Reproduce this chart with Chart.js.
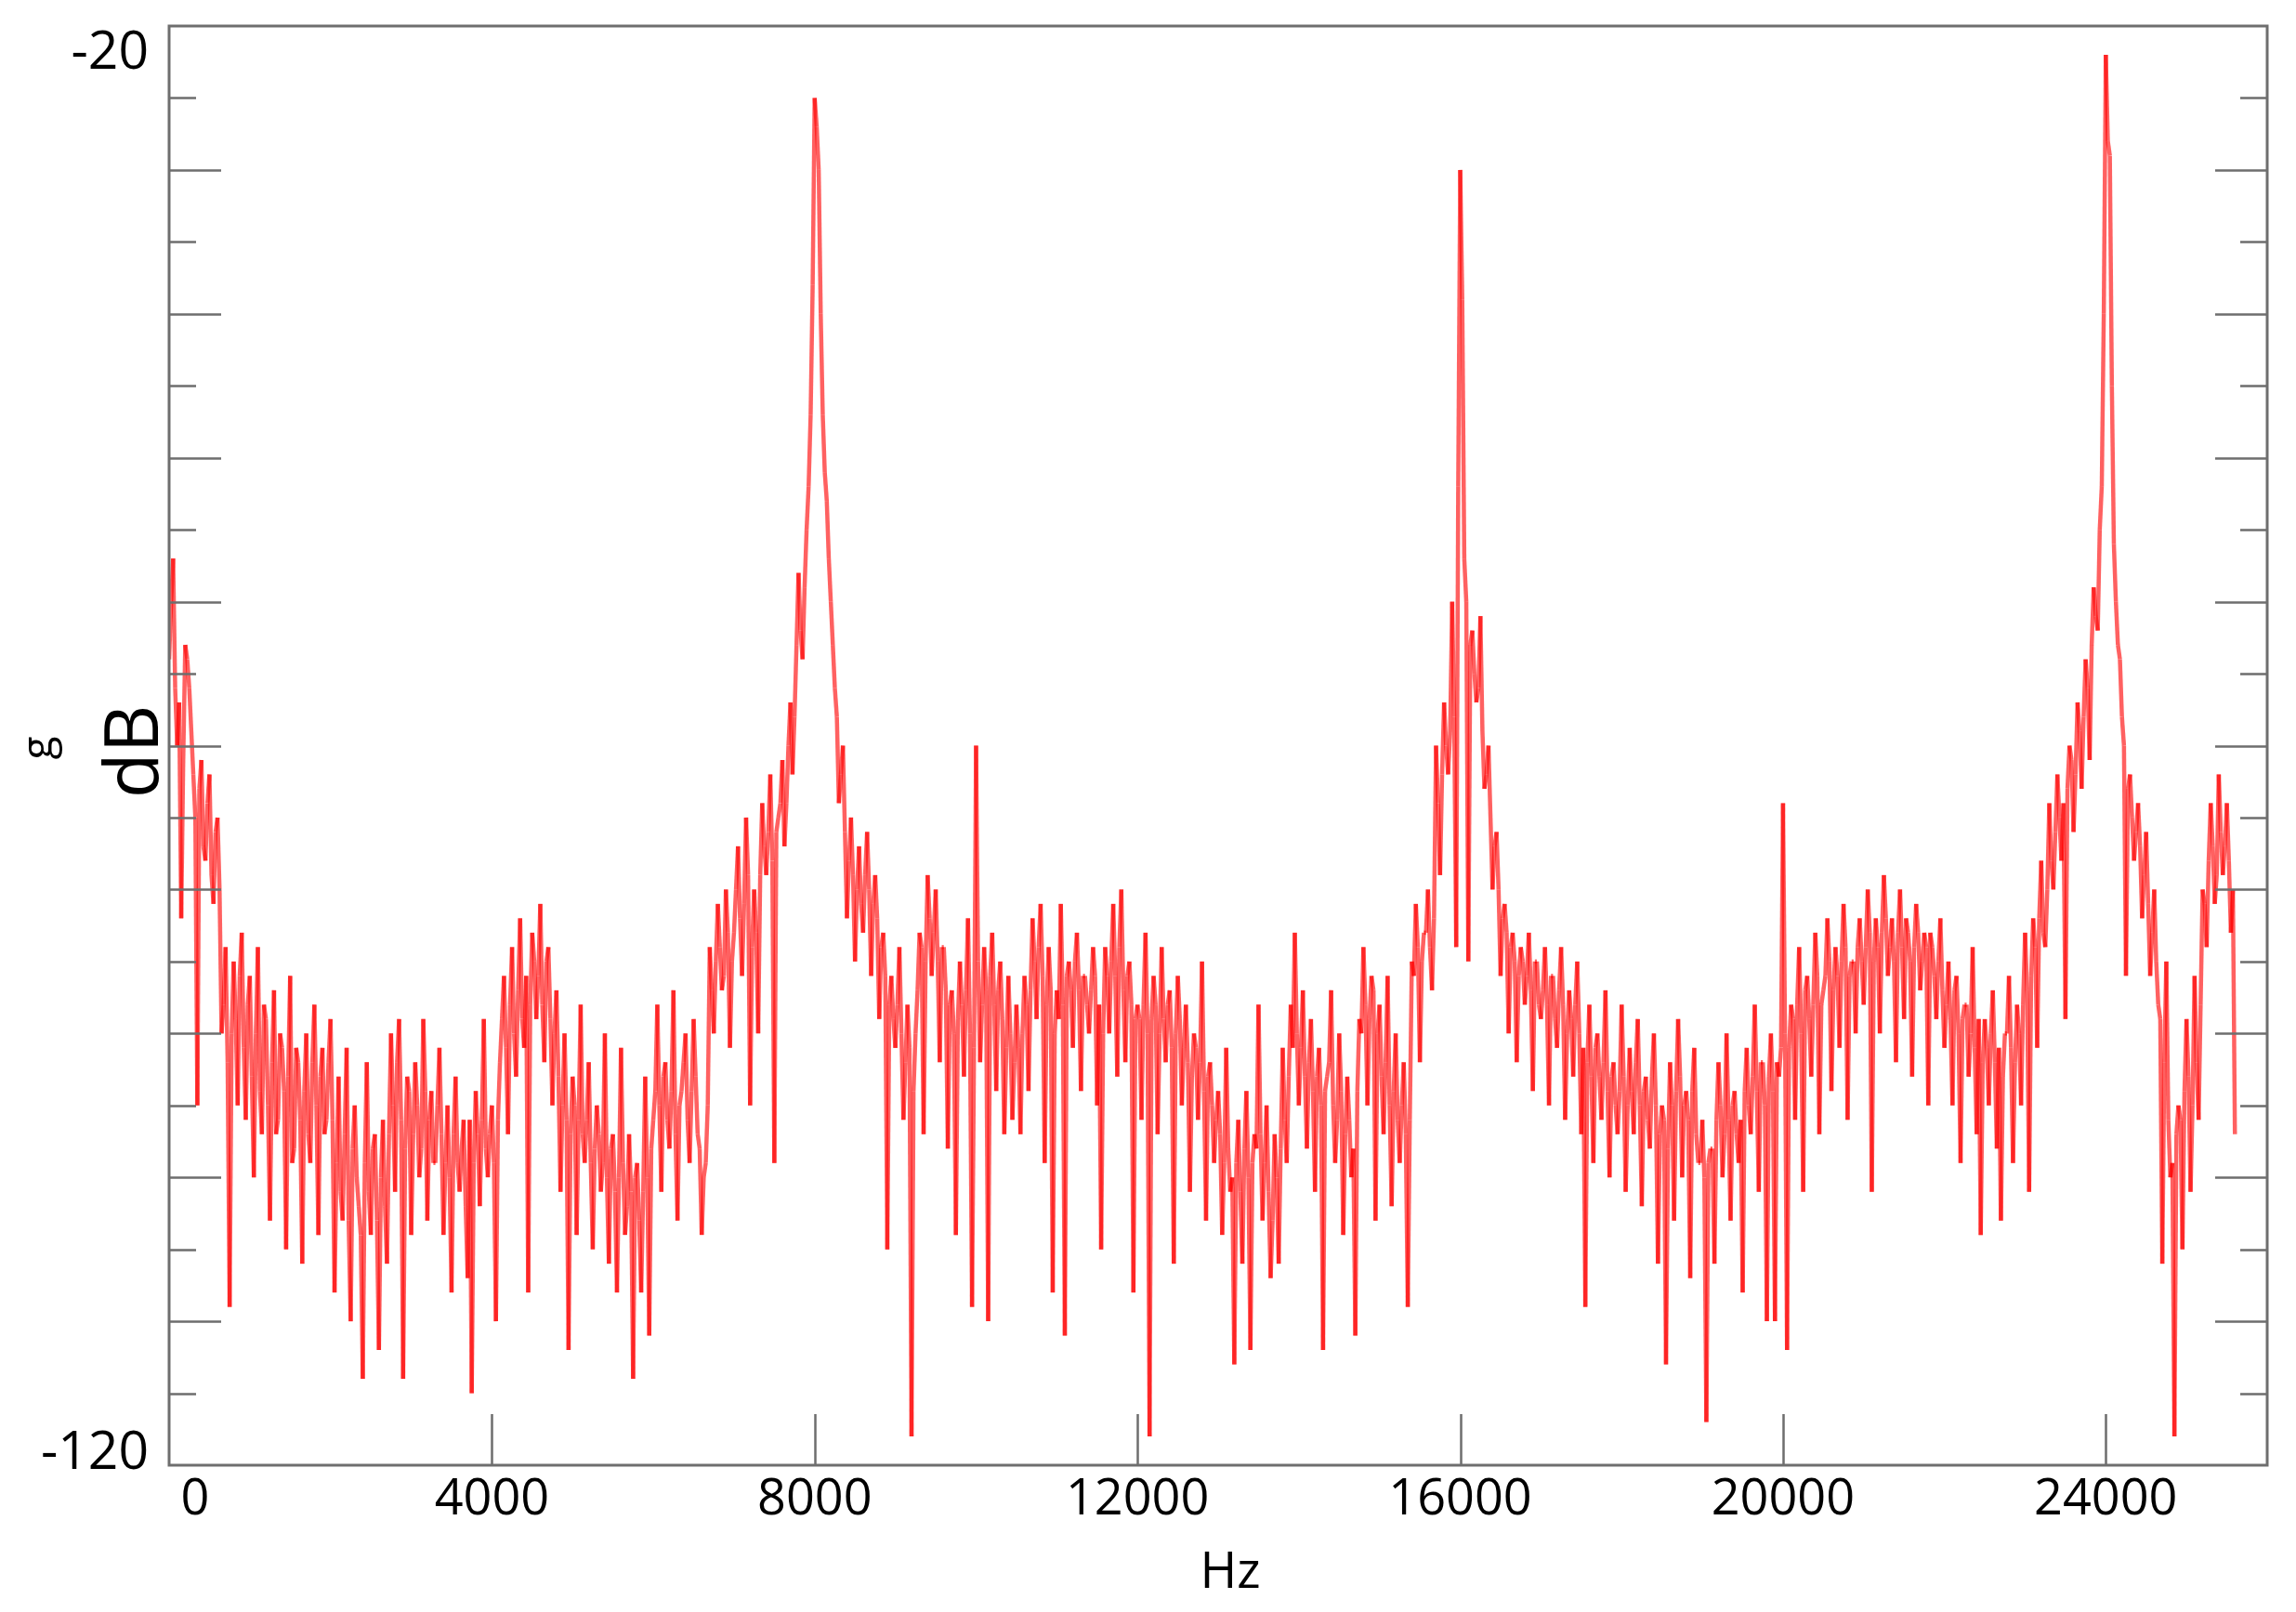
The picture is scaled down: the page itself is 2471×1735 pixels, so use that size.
<!DOCTYPE html>
<html>
<head>
<meta charset="utf-8">
<script src="https://cdn.jsdelivr.net/npm/chart.js@4.4.1/dist/chart.umd.min.js"></script>
<style>
  html, body { margin: 0; padding: 0; background: #ffffff; }
  #wrap { width: 2471px; height: 1735px; position: relative; }
  canvas { display: block; }
</style>
</head>
<body>
<div id="wrap"><canvas id="c" width="2471" height="1735"></canvas></div>
<script>
// ---------------- DATA ----------------
// spectrum level (dB).
// "even" bins at 0, 50, 100 ... Hz ; "odd" bins at 25, 75, 125 ... Hz
const BIN_STEP_HZ = 25;

const even_00k_04k = [
  -64,-57,-70,-82,-63,-66,-72,-95,-71,-78,-72,-81,-75,-90,-84,-109,-85,-95,-83,-96,
  -86,-100,-84,-97,-89,-103,-87,-96,-91,-105,-86,-98,-92,-106,-90,-99,-88,-104,-91,-96,
  -89,-108,-93,-103,-91,-110,-95,-102,-114,-92,-104,-97,-112,-96,-106,-90,-101,-89,-114,-93,
  -104,-92,-100,-89,-103,-94,-99,-91,-104,-95,-108,-93,-101,-96,-107,-115,-94,-102,-89,-100
];
const even_04k_08k = [
  -95,-110,-92,-86,-97,-84,-93,-82,-91,-108,-83,-89,-81,-92,-84,-95,-87,-101,-90,-112,
  -93,-104,-88,-99,-92,-105,-95,-101,-90,-106,-97,-108,-91,-104,-97,-114,-99,-108,-93,-111,
  -96,-88,-101,-92,-98,-87,-103,-94,-90,-99,-89,-97,-104,-99,-84,-90,-81,-87,-80,-91,
  -83,-77,-86,-75,-95,-80,-90,-74,-79,-72,-99,-75,-71,-74,-67,-68,-58,-64,-55,-47
];
const even_08k_12k = [
  -25,-30,-47,-53,-60,-66,-74,-70,-82,-75,-85,-77,-83,-76,-86,-79,-89,-83,-105,-86,
  -91,-84,-96,-88,-118,-90,-83,-97,-79,-86,-80,-92,-84,-98,-87,-104,-85,-93,-82,-109,
  -70,-92,-84,-110,-83,-94,-85,-97,-86,-96,-88,-97,-86,-94,-82,-89,-81,-99,-84,-108,
  -87,-81,-111,-85,-91,-83,-94,-86,-90,-84,-95,-105,-84,-90,-81,-93,-80,-92,-85,-108
];
const even_12k_16k = [
  -88,-96,-83,-118,-86,-97,-84,-92,-87,-106,-86,-95,-88,-101,-90,-96,-85,-103,-92,-99,
  -94,-104,-91,-101,-113,-96,-106,-94,-112,-97,-88,-103,-95,-107,-97,-106,-91,-99,-88,-83,
  -95,-87,-98,-89,-101,-91,-112,-93,-87,-99,-90,-104,-93,-100,-111,-89,-84,-95,-86,-103,
  -88,-97,-86,-102,-90,-99,-92,-109,-85,-81,-92,-83,-80,-87,-70,-79,-67,-72,-60,-84
];
const even_16k_20k = [
  -30,-57,-85,-62,-67,-61,-73,-70,-80,-76,-86,-81,-90,-83,-92,-84,-88,-83,-94,-85,
  -89,-84,-95,-86,-91,-84,-96,-87,-93,-85,-97,-109,-88,-99,-90,-96,-87,-100,-92,-97,
  -88,-101,-91,-97,-89,-102,-93,-98,-90,-106,-95,-113,-92,-103,-89,-100,-94,-107,-91,-99,
  -96,-117,-98,-106,-92,-100,-90,-103,-94,-99,-108,-91,-97,-88,-101,-92,-110,-90,-110,-93
];
const even_20k_24k = [
  -74,-112,-88,-96,-84,-101,-86,-93,-83,-97,-87,-82,-94,-84,-91,-81,-96,-85,-90,-82,
  -88,-80,-101,-82,-90,-79,-86,-82,-92,-80,-89,-83,-93,-81,-87,-83,-95,-84,-89,-82,
  -91,-85,-95,-86,-99,-88,-93,-84,-97,-104,-89,-95,-87,-98,-103,-90,-86,-99,-88,-95,
  -83,-101,-82,-91,-78,-84,-74,-80,-72,-78,-89,-70,-76,-67,-73,-64,-71,-59,-62,-52
];
const even_24k_end = [
  -22,-29,-56,-63,-68,-86,-72,-78,-74,-82,-76,-86,-80,-88,-106,-85,-100,-118,-95,-105,
  -89,-101,-86,-96,-80,-84,-74,-81,-72,-79,-74,-83,-97
];

const odd_00k_04k = [
  -60,-66,-67,-71,-64,-69,-75,-73,-77,-74,-79,-76,-80,-88,-92,-90,-89,-86,-91,-88,
  -93,-90,-94,-88,-95,-92,-97,-90,-94,-93,-99,-91,-96,-94,-97,-92,-95,-93,-97,-92,
  -96,-99,-101,-97,-103,-98,-100,-104,-99,-101,-98,-103,-100,-102,-97,-95,-92,-96,-98,-94,
  -97,-95,-98,-94,-96,-99,-95,-97,-99,-100,-97,-99,-98,-102,-96,-99,-97,-96,-98,-97
];
const odd_04k_08k = [
  -99,-96,-89,-91,-88,-90,-87,-89,-86,-88,-85,-86,-88,-85,-89,-90,-93,-95,-96,-97,
  -95,-96,-97,-96,-99,-98,-97,-99,-100,-98,-101,-100,-99,-102,-101,-100,-103,-101,-100,-98,
  -94,-95,-93,-96,-94,-97,-95,-92,-96,-94,-93,-98,-100,-95,-87,-85,-84,-86,-83,-85,
  -80,-82,-81,-79,-84,-83,-79,-77,-76,-78,-76,-74,-77,-70,-72,-63,-62,-59,-52,-38
];
const odd_08k_12k = [
  -27,-40,-51,-57,-63,-68,-72,-76,-78,-79,-80,-81,-79,-80,-81,-82,-84,-86,-88,-89,
  -88,-90,-92,-91,-94,-87,-84,-85,-82,-83,-85,-84,-87,-88,-90,-89,-88,-87,-90,-91,
  -85,-88,-87,-86,-88,-87,-89,-91,-90,-92,-91,-90,-88,-87,-85,-84,-86,-88,-87,-90,
  -89,-88,-86,-87,-85,-87,-86,-88,-87,-86,-88,-90,-86,-85,-86,-84,-87,-86,-88,-89
];
const odd_12k_16k = [
  -89,-88,-90,-89,-88,-90,-89,-88,-91,-90,-89,-91,-92,-93,-91,-92,-94,-93,-95,-96,
  -97,-99,-98,-100,-99,-101,-98,-100,-99,-98,-97,-99,-101,-103,-100,-98,-96,-93,-91,-90,
  -91,-93,-92,-94,-93,-95,-94,-92,-95,-96,-94,-97,-96,-98,-94,-90,-88,-89,-87,-90,
  -93,-92,-95,-94,-96,-95,-97,-96,-86,-84,-85,-83,-84,-82,-74,-72,-70,-69,-68,-52
];
const odd_16k_20k = [
  -39,-60,-63,-65,-66,-69,-72,-75,-77,-80,-82,-83,-84,-85,-86,-85,-86,-87,-85,-88,
  -87,-88,-86,-89,-87,-88,-90,-89,-88,-90,-91,-92,-93,-91,-93,-92,-94,-93,-95,-94,
  -93,-95,-94,-92,-95,-94,-96,-93,-95,-97,-96,-98,-95,-94,-93,-95,-96,-94,-97,-99,
  -100,-99,-98,-96,-95,-97,-96,-95,-97,-96,-94,-95,-93,-94,-92,-95,-93,-94,-92,-91
];
const odd_20k_24k = [
  -90,-91,-89,-88,-90,-87,-89,-88,-86,-88,-86,-85,-87,-86,-85,-84,-86,-85,-84,-85,
  -84,-83,-85,-84,-83,-82,-84,-85,-83,-84,-82,-85,-84,-83,-85,-84,-83,-86,-85,-87,
  -88,-89,-87,-90,-89,-88,-90,-91,-89,-92,-91,-90,-92,-91,-93,-90,-91,-92,-90,-88,
  -87,-86,-84,-82,-83,-80,-78,-76,-75,-74,-73,-71,-72,-69,-68,-66,-63,-61,-55,-40
];
const odd_24k_end = [
  -28,-45,-60,-64,-70,-73,-75,-76,-77,-79,-81,-83,-85,-89,-92,-96,-99,-97,-96,-94,
  -93,-95,-92,-88,-81,-78,-77,-79,-76,-77,-78,-80
];

// axis ranges / ticks
const X_MIN = 0, X_MAX = 26000;
const Y_MIN = -120, Y_MAX = -20;
const xTickValues = [0, 4000, 8000, 12000, 16000, 20000, 24000];
const xTickLabels = ['0', '4000', '8000', '12000', '16000', '20000', '24000'];
const yTickValues = [-115,-110,-105,-100,-95,-90,-85,-80,-75,-70,-65,-60,-55,-50,-45,-40,-35,-30,-25];
const yLabelValues = [-20, -120];
const yLabelTexts = ['-20', '-120'];
const xAxisTitle = 'Hz';
const yAxisTitle = 'dB';
const yAxisMark = 'g';

// ---------------- BUILD ----------------
const evenDb = [].concat(even_00k_04k, even_04k_08k, even_08k_12k, even_12k_16k, even_16k_20k, even_20k_24k, even_24k_end);
const oddDb = [].concat(odd_00k_04k, odd_04k_08k, odd_08k_12k, odd_12k_16k, odd_16k_20k, odd_20k_24k, odd_24k_end);
const levelDb = [];
evenDb.forEach((v, i) => { levelDb.push(v); if (i < oddDb.length) levelDb.push(oddDb[i]); });
const points = levelDb.map((v, i) => ({ x: i * BIN_STEP_HZ, y: v }));

const FRAME_COLOR = '#6e6e6e';
const FONT = '"Open Sans", "Noto Sans", "DejaVu Sans", sans-serif';
const LINE_A = 'rgba(255,0,0,0.62)';
const LINE_B = 'rgba(254,0,0,0.62)';

const decorPlugin = {
  id: 'decor',
  afterDraw(chart) {
    const ctx = chart.ctx;
    const a = chart.chartArea;
    const xs = chart.scales.x, ys = chart.scales.y;
    ctx.save();
    ctx.strokeStyle = FRAME_COLOR;
    ctx.lineWidth = 2.5;
    ctx.beginPath();
    yTickValues.forEach(v => {
      const y = Math.round(ys.getPixelForValue(v)) + 0.5;
      const len = (v % 10 === 0) ? 56 : 29;
      ctx.moveTo(a.left, y); ctx.lineTo(a.left + len, y);
      ctx.moveTo(a.right, y); ctx.lineTo(a.right - len, y);
    });
    xTickValues.forEach(v => {
      if (v === X_MIN) return;
      const x = Math.round(xs.getPixelForValue(v)) + 0.5;
      ctx.moveTo(x, a.bottom); ctx.lineTo(x, a.bottom - 55);
    });
    ctx.stroke();
    ctx.lineWidth = 3;
    ctx.strokeRect(a.left, a.top, a.right - a.left, a.bottom - a.top);

    ctx.fillStyle = '#000000';
    ctx.textBaseline = 'middle';
    ctx.font = '57px ' + FONT;
    ctx.textAlign = 'right';
    yLabelValues.forEach((v, i) => {
      const y = ys.getPixelForValue(v) + (i === 0 ? 30 : -12);
      ctx.fillText(yLabelTexts[i], a.left - 22, y);
    });
    ctx.font = '54px ' + FONT;
    ctx.textAlign = 'center';
    xTickValues.forEach((v, i) => {
      const x = xs.getPixelForValue(v) + (v === X_MIN ? 28 : 0);
      ctx.fillText(xTickLabels[i], x, a.bottom + 38);
    });
    ctx.font = '54px ' + FONT;
    ctx.fillText(xAxisTitle, 1324, 1694);
    ctx.save();
    ctx.translate(147, 809);
    ctx.rotate(-Math.PI / 2);
    ctx.font = '80px ' + FONT;
    ctx.fillText(yAxisTitle, 0, 0);
    ctx.restore();
    ctx.save();
    ctx.translate(43, 805);
    ctx.rotate(-Math.PI / 2);
    ctx.font = '46px ' + FONT;
    ctx.fillText(yAxisMark, 0, 0);
    ctx.restore();
    ctx.restore();
  }
};

new Chart(document.getElementById('c'), {
  type: 'line',
  data: {
    datasets: [{
      data: points,
      borderColor: LINE_A,
      borderWidth: 4.5,
      borderCapStyle: 'butt',
      pointRadius: 0,
      tension: 0,
      fill: false,
      // alternate (visually identical) colours so each segment is stroked on its own
      // and overlapping segments build up darker red like the reference
      segment: { borderColor: c => (c.p0DataIndex % 2 ? LINE_A : LINE_B) }
    }]
  },
  options: {
    responsive: false,
    animation: false,
    devicePixelRatio: 1,
    layout: { padding: { left: 182, top: 28, right: 31, bottom: 158 } },
    plugins: { legend: { display: false }, tooltip: { enabled: false }, title: { display: false } },
    scales: {
      x: { type: 'linear', min: X_MIN, max: X_MAX, display: false },
      y: { type: 'linear', min: Y_MIN, max: Y_MAX, display: false }
    }
  },
  plugins: [decorPlugin]
});
</script>
</body>
</html>
